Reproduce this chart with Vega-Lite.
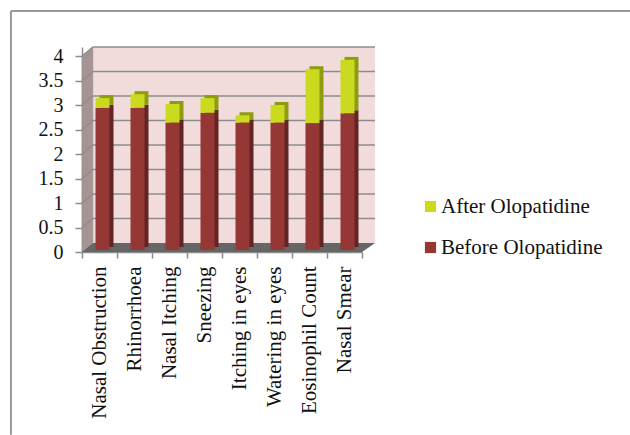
{
"$schema":"https://vega.github.io/schema/vega-lite/v6.json",
"width":293,"height":205,
"autosize":{"type":"none"},
"padding":{"left":82,"top":47,"right":255,"bottom":183},
"background":"white",
"config":{"view":{"stroke":null},"font":"Liberation Serif",
"axisY":{"tickCount":9,"title":null,"grid":false,"labelFontSize":20,"labelColor":"#111111","labelPadding":12,"domainColor":"#8c8c8c","tickColor":"#8c8c8c","domainWidth":1.5,"tickWidth":1.5,"tickSize":7,"labelOverlap":false,"labelFlush":false,"labelExpr":"format(datum.value,'~g')"}},
"datasets":{
"bars":[
{"symptom":"Nasal Obstruction","series":"Before Olopatidine","value":2.9},
{"symptom":"Nasal Obstruction","series":"After Olopatidine","value":0.2},
{"symptom":"Rhinorrhoea","series":"Before Olopatidine","value":2.9},
{"symptom":"Rhinorrhoea","series":"After Olopatidine","value":0.28},
{"symptom":"Nasal Itching","series":"Before Olopatidine","value":2.6},
{"symptom":"Nasal Itching","series":"After Olopatidine","value":0.38},
{"symptom":"Sneezing","series":"Before Olopatidine","value":2.8},
{"symptom":"Sneezing","series":"After Olopatidine","value":0.3},
{"symptom":"Itching in eyes","series":"Before Olopatidine","value":2.6},
{"symptom":"Itching in eyes","series":"After Olopatidine","value":0.15},
{"symptom":"Watering in eyes","series":"Before Olopatidine","value":2.6},
{"symptom":"Watering in eyes","series":"After Olopatidine","value":0.36},
{"symptom":"Eosinophil Count","series":"Before Olopatidine","value":2.59},
{"symptom":"Eosinophil Count","series":"After Olopatidine","value":1.1},
{"symptom":"Nasal Smear","series":"Before Olopatidine","value":2.79},
{"symptom":"Nasal Smear","series":"After Olopatidine","value":1.09}
],
"grid":[{"v":0.5},{"v":1},{"v":1.5},{"v":2},{"v":2.5},{"v":3},{"v":3.5},{"v":4}],
"one":[{"v":0}],
"side":[{"c":0,"low":0,"high":4},{"c":0.31,"low":0.184,"high":4.184}],
"floor":[{"c":0,"low":0,"high":0},{"c":0.31,"low":0,"high":0.184},{"c":8,"low":0,"high":0.184},{"c":8.37,"low":0.184,"high":0.184}]
},
"layer":[
{"resolve":{"scale":{"x":"shared"}},
"layer":[
{"data":{"name":"one"},
 "mark":{"type":"rect","fill":"#f2dcdb"},
 "encoding":{"x":{"datum":0.31,"type":"quantitative","scale":{"domain":[0,8.37],"nice":false,"zero":false},"axis":null},"x2":{"datum":8.37},
 "y":{"datum":0.184,"type":"quantitative","scale":{"domain":[0,4.184],"nice":false}},"y2":{"datum":4.184}}},
{"data":{"name":"one"},"mark":{"type":"rule","stroke":"#999999","strokeWidth":2,"clip":false},
 "encoding":{"x":{"datum":-2.03,"type":"quantitative","axis":null},"x2":{"datum":15.66},"y":{"datum":4.92,"type":"quantitative"},"y2":{"datum":4.92}}},
{"data":{"name":"one"},"mark":{"type":"rule","stroke":"#999999","strokeWidth":2,"clip":false},
 "encoding":{"x":{"datum":-2.03,"type":"quantitative","axis":null},"x2":{"datum":-2.03},"y":{"datum":4.92,"type":"quantitative"},"y2":{"datum":-3.73}}},
{"data":{"name":"side"},"mark":{"type":"area","fill":"#a69494","stroke":"#8c8c8c","strokeWidth":0.5},
 "encoding":{"x":{"field":"c","type":"quantitative","axis":null},"y":{"field":"low","type":"quantitative"},"y2":{"field":"high"}}},
{"data":{"name":"floor"},"mark":{"type":"area","fill":"#666666"},
 "encoding":{"x":{"field":"c","type":"quantitative","axis":null},"y":{"field":"low","type":"quantitative"},"y2":{"field":"high"}}},
{"data":{"name":"grid"},"mark":{"type":"rule","stroke":"#8c8c8c","strokeWidth":1.6,"yOffset":-9},
 "encoding":{"x":{"datum":0.31,"type":"quantitative","axis":null},"x2":{"datum":8.37},"y":{"field":"v","type":"quantitative"}}},
{"data":{"name":"grid"},"mark":{"type":"rule","stroke":"#8c8c8c","strokeWidth":1.2,"y2Offset":-9},
 "encoding":{"x":{"datum":0,"type":"quantitative","axis":null},"x2":{"datum":0.31},"y":{"field":"v","type":"quantitative"},"y2":{"field":"v"}}}
]},
{"data":{"name":"bars"},
 "transform":[{"stack":"value","groupby":["symptom"],"sort":[{"field":"series","order":"descending"}],"as":["y0","y1"]}],
 "resolve":{"scale":{"x":"shared"}},
 "layer":[
 {"mark":{"type":"bar","size":14,"xOffset":7,"yOffset":-5,"y2Offset":-5},
  "encoding":{
  "x":{"field":"symptom","type":"nominal","sort":null,"scale":{"range":[0,280],"paddingInner":0,"paddingOuter":0},"axis":{"title":null,"labelAngle":-90,"labelFontSize":21,"labelColor":"#111111","labelPadding":8,"labelLimit":200,"domainColor":"#8c8c8c","domainWidth":1.5,"tickColor":"#8c8c8c","tickWidth":1.5,"tickSize":6,"tickBand":"extent"}},
  "y":{"field":"y1","type":"quantitative"},"y2":{"field":"y0"},
  "color":{"condition":{"test":"datum.series==='After Olopatidine'","value":"#8f9c12"},"value":"#632523"}}},
 {"mark":{"type":"bar","size":14,"xOffset":3,"yOffset":-2,"y2Offset":-2},
  "encoding":{
  "x":{"field":"symptom","type":"nominal","sort":null},
  "y":{"field":"y1","type":"quantitative"},"y2":{"field":"y0"},
  "color":{"field":"series","type":"nominal","sort":["After Olopatidine","Before Olopatidine"],
    "scale":{"domain":["After Olopatidine","Before Olopatidine"],"range":["#cbda1e","#953735"]},
    "legend":{"title":null,"orient":"none","legendX":338,"legendY":149,"symbolType":"square","symbolSize":125,"symbolStrokeWidth":0,"labelFontSize":21,"labelLimit":300,"labelColor":"#111111","rowPadding":19,"labelOffset":0}}}}
 ]
}
],
"resolve":{"scale":{"x":"independent"},"axis":{"x":"independent"}}
}
